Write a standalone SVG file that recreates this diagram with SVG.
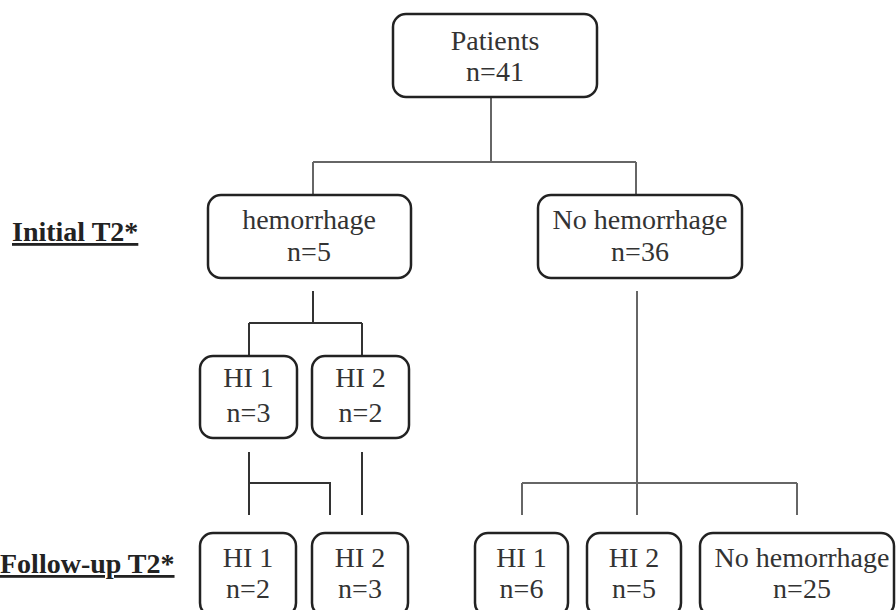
<svg xmlns="http://www.w3.org/2000/svg" width="896" height="610" viewBox="0 0 896 610">
<style>
.box{fill:#fff;stroke:#222;stroke-width:2.5}
.t{font-family:"Liberation Serif","Times New Roman",serif;font-size:28px;fill:#333;text-anchor:middle}
.lbl{font-family:"Liberation Serif","Times New Roman",serif;font-size:28px;font-weight:bold;fill:#222;text-decoration:underline}
.c{fill:none;stroke:#666;stroke-width:2}
.cd{fill:none;stroke:#333;stroke-width:2}
</style>
<rect width="896" height="610" fill="#fff"/>
<g id="connectors">
<path class="c" d="M491 97V162M313 162H636M313 162V195M636 162V195"/>
<path class="cd" d="M313 291V323M249 323H362M249 323V355M362 323V355"/>
<path class="cd" d="M249 452V515M249 483H330V515M362 452V515"/>
<path class="c" d="M637 291V515M522 483H797M522 483V515M797 483V515"/>
</g>
<g id="label-initial"><text class="lbl" x="12" y="241">Initial T2*</text></g>
<g id="label-followup"><text class="lbl" x="0" y="573">Follow-up T2*</text></g>
<g id="patients"><rect class="box" x="393" y="14" width="204" height="83" rx="13"/><text class="t" x="495" y="50">Patients</text><text class="t" x="495" y="81">n=41</text></g>
<g id="hemorrhage"><rect class="box" x="208" y="195" width="203" height="83" rx="13"/><text class="t" x="309" y="229">hemorrhage</text><text class="t" x="309" y="261">n=5</text></g>
<g id="no-hemorrhage"><rect class="box" x="538" y="195" width="204" height="83" rx="13"/><text class="t" x="640" y="229">No hemorrhage</text><text class="t" x="640" y="261">n=36</text></g>
<g id="hi1-initial"><rect class="box" x="200" y="356" width="97" height="82" rx="13"/><text class="t" x="248.5" y="387">HI 1</text><text class="t" x="248.5" y="422">n=3</text></g>
<g id="hi2-initial"><rect class="box" x="312" y="356" width="97" height="82" rx="13"/><text class="t" x="360.5" y="387">HI 2</text><text class="t" x="360.5" y="422">n=2</text></g>
<g id="hi1-followup-a"><rect class="box" x="200" y="533" width="96" height="83" rx="13"/><text class="t" x="248" y="567">HI 1</text><text class="t" x="248" y="598">n=2</text></g>
<g id="hi2-followup-a"><rect class="box" x="312" y="533" width="96" height="83" rx="13"/><text class="t" x="360" y="567">HI 2</text><text class="t" x="360" y="598">n=3</text></g>
<g id="hi1-followup-b"><rect class="box" x="475" y="533" width="93" height="83" rx="13"/><text class="t" x="521.5" y="567">HI 1</text><text class="t" x="521.5" y="598">n=6</text></g>
<g id="hi2-followup-b"><rect class="box" x="587" y="533" width="94" height="83" rx="13"/><text class="t" x="634" y="567">HI 2</text><text class="t" x="634" y="598">n=5</text></g>
<g id="no-hemorrhage-followup"><rect class="box" x="700" y="533" width="194" height="83" rx="13"/><text class="t" x="802" y="567">No hemorrhage</text><text class="t" x="802" y="598">n=25</text></g>
</svg>
